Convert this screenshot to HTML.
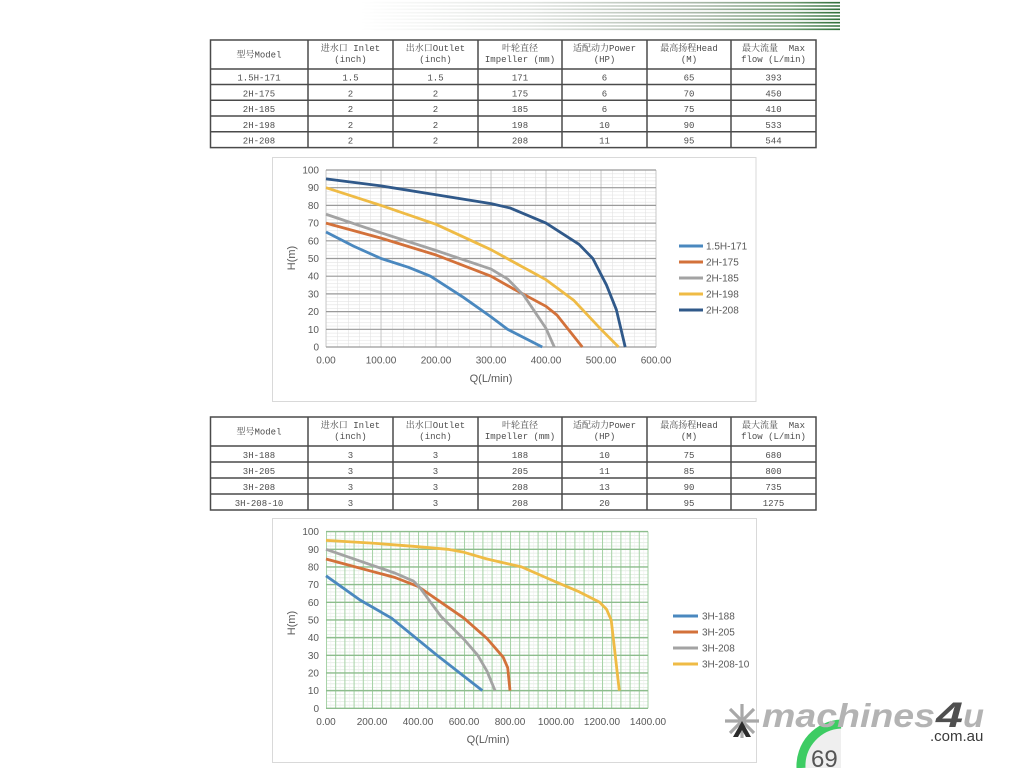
<!DOCTYPE html>
<html><head><meta charset="utf-8"><style>
html,body{margin:0;padding:0;background:#fff;width:1024px;height:768px;overflow:hidden}
svg{display:block;overflow:hidden}
.t{font-family:"Liberation Mono","Noto Serif CJK SC",monospace;font-size:9px;fill:#4d4d4d;text-anchor:middle}
.a{font-family:"Liberation Sans",sans-serif;font-size:10px;fill:#595959}
.ti{font-family:"Liberation Sans",sans-serif;font-size:11px;fill:#595959;text-anchor:middle}
</style></head><body>
<svg width="1024" height="768" viewBox="0 0 1024 768" xmlns="http://www.w3.org/2000/svg">
<defs>
<linearGradient id="sg" gradientUnits="userSpaceOnUse" x1="360" y1="0" x2="840" y2="0">
<stop offset="0" stop-color="#ffffff"/><stop offset="0.35" stop-color="#e2e5e2"/><stop offset="0.7" stop-color="#aab8aa"/><stop offset="0.9" stop-color="#6f9a72"/><stop offset="1" stop-color="#2f6e3a"/>
</linearGradient>
<pattern id="m1" x="326" y="170" width="11" height="3.54" patternUnits="userSpaceOnUse"><path d="M0 0.3H11M0.3 0V3.54" stroke="#e2e2e2" stroke-width="0.6" fill="none"/></pattern>
<pattern id="m2" x="326" y="531.6" width="4.6" height="3.534" patternUnits="userSpaceOnUse"><path d="M0 0.3H4.6" stroke="#d6e6d6" stroke-width="0.6" fill="none"/><path d="M0.3 0V3.534" stroke="#ececec" stroke-width="0.5" fill="none"/></pattern>
<pattern id="v2" x="326" y="531.6" width="9.2" height="200" patternUnits="userSpaceOnUse"><path d="M0.5 0V200" stroke="#a6d2a6" stroke-width="1" fill="none"/></pattern>
</defs>

<!-- header stripes -->
<g stroke="url(#sg)" stroke-width="1.6">
<line x1="360" y1="2.7" x2="840" y2="2.7"/><line x1="360" y1="6" x2="840" y2="6"/><line x1="360" y1="9.3" x2="840" y2="9.3"/>
<line x1="360" y1="12.7" x2="840" y2="12.7"/><line x1="360" y1="16" x2="840" y2="16"/><line x1="360" y1="19.3" x2="840" y2="19.3"/>
<line x1="360" y1="22.7" x2="840" y2="22.7"/><line x1="360" y1="26" x2="840" y2="26"/><line x1="360" y1="29.3" x2="840" y2="29.3"/>
</g>

<!-- TABLE 1 -->
<g stroke="#4a4a4a" stroke-width="1.5" fill="none">
<rect x="210.5" y="40" width="605.5" height="107.6"/>
<line x1="210.5" y1="69" x2="816" y2="69"/><line x1="210.5" y1="84.5" x2="816" y2="84.5"/><line x1="210.5" y1="100.3" x2="816" y2="100.3"/>
<line x1="210.5" y1="116" x2="816" y2="116"/><line x1="210.5" y1="131.8" x2="816" y2="131.8"/>
<line x1="308" y1="40" x2="308" y2="147.6"/><line x1="393" y1="40" x2="393" y2="147.6"/><line x1="478" y1="40" x2="478" y2="147.6"/>
<line x1="562" y1="40" x2="562" y2="147.6"/><line x1="647" y1="40" x2="647" y2="147.6"/><line x1="731" y1="40" x2="731" y2="147.6"/>
</g>
<g class="t">
<text x="259" y="57.5">型号Model</text>
<text x="350.5" y="51">进水口 Inlet</text><text x="350.5" y="61.8">(inch)</text>
<text x="435.5" y="51">出水口Outlet</text><text x="435.5" y="61.8">(inch)</text>
<text x="520" y="51">叶轮直径</text><text x="520" y="61.8">Impeller (mm)</text>
<text x="604.5" y="51">适配动力Power</text><text x="604.5" y="61.8">(HP)</text>
<text x="689" y="51">最高扬程Head</text><text x="689" y="61.8">(M)</text>
<text x="773.5" y="51" xml:space="preserve">最大流量  Max</text><text x="773.5" y="61.8">flow (L/min)</text>
<text x="259" y="80.5">1.5H-171</text><text x="350.5" y="80.5">1.5</text><text x="435.5" y="80.5">1.5</text><text x="520" y="80.5">171</text><text x="604.5" y="80.5">6</text><text x="689" y="80.5">65</text><text x="773.5" y="80.5">393</text>
<text x="259" y="96.3">2H-175</text><text x="350.5" y="96.3">2</text><text x="435.5" y="96.3">2</text><text x="520" y="96.3">175</text><text x="604.5" y="96.3">6</text><text x="689" y="96.3">70</text><text x="773.5" y="96.3">450</text>
<text x="259" y="112">2H-185</text><text x="350.5" y="112">2</text><text x="435.5" y="112">2</text><text x="520" y="112">185</text><text x="604.5" y="112">6</text><text x="689" y="112">75</text><text x="773.5" y="112">410</text>
<text x="259" y="127.8">2H-198</text><text x="350.5" y="127.8">2</text><text x="435.5" y="127.8">2</text><text x="520" y="127.8">198</text><text x="604.5" y="127.8">10</text><text x="689" y="127.8">90</text><text x="773.5" y="127.8">533</text>
<text x="259" y="143.6">2H-208</text><text x="350.5" y="143.6">2</text><text x="435.5" y="143.6">2</text><text x="520" y="143.6">208</text><text x="604.5" y="143.6">11</text><text x="689" y="143.6">95</text><text x="773.5" y="143.6">544</text>
</g>

<!-- CHART 1 -->
<rect x="272.5" y="157.5" width="483.5" height="244" fill="#fff" stroke="#d9d9d9" stroke-width="1"/>
<rect x="326" y="170" width="330" height="177" fill="url(#m1)"/>
<g stroke="#c8c8c8" stroke-width="1">
<line x1="326" y1="170" x2="326" y2="347"/><line x1="381" y1="170" x2="381" y2="347"/><line x1="436" y1="170" x2="436" y2="347"/>
<line x1="491" y1="170" x2="491" y2="347"/><line x1="546" y1="170" x2="546" y2="347"/><line x1="601" y1="170" x2="601" y2="347"/><line x1="656" y1="170" x2="656" y2="347"/>
</g>
<g stroke="#9a9a9a" stroke-width="1.2">
<line x1="326" y1="170" x2="656" y2="170"/><line x1="326" y1="187.7" x2="656" y2="187.7"/><line x1="326" y1="205.4" x2="656" y2="205.4"/>
<line x1="326" y1="223.1" x2="656" y2="223.1"/><line x1="326" y1="240.8" x2="656" y2="240.8"/><line x1="326" y1="258.5" x2="656" y2="258.5"/>
<line x1="326" y1="276.2" x2="656" y2="276.2"/><line x1="326" y1="293.9" x2="656" y2="293.9"/><line x1="326" y1="311.6" x2="656" y2="311.6"/>
<line x1="326" y1="329.3" x2="656" y2="329.3"/><line x1="326" y1="347" x2="656" y2="347"/>
</g>
<g class="a" text-anchor="end">
<text x="319" y="173.5">100</text><text x="319" y="191.2">90</text><text x="319" y="208.9">80</text><text x="319" y="226.6">70</text>
<text x="319" y="244.3">60</text><text x="319" y="262">50</text><text x="319" y="279.7">40</text><text x="319" y="297.4">30</text>
<text x="319" y="315.1">20</text><text x="319" y="332.8">10</text><text x="319" y="350.5">0</text>
</g>
<g class="a" text-anchor="middle">
<text x="326" y="363.5">0.00</text><text x="381" y="363.5">100.00</text><text x="436" y="363.5">200.00</text><text x="491" y="363.5">300.00</text>
<text x="546" y="363.5">400.00</text><text x="601" y="363.5">500.00</text><text x="656" y="363.5">600.00</text>
</g>
<text class="ti" x="491" y="382">Q(L/min)</text>
<text class="ti" transform="translate(295,258) rotate(-90)">H(m)</text>
<g fill="none" stroke-width="2.8" stroke-linejoin="round">
<polyline stroke="#4a88bf" points="326,231.95 353.5,246.11 381,258.5 408.5,267.35 430.5,276.2 463.5,297.44 491,316.91 507.5,329.3 542.2,347"/>
<polyline stroke="#d3713a" points="326,223.1 381,238.1 436,255 491,276.2 513,288.6 546,306.3 557,315.1 582.3,347"/>
<polyline stroke="#a3a3a3" points="326,214.25 381,232.8 436,250.5 491,269.1 507.5,278.9 524,295.7 546,328.4 554.3,347"/>
<polyline stroke="#efbb45" points="326,187.7 381,205.4 436,224.3 491,249.7 546,279.7 573.5,300.1 601,329.3 618.6,347"/>
<polyline stroke="#30598a" points="326,178.85 381,185.9 436,194.8 491,203.6 510.3,208.05 546,223.1 579,244.3 592.8,258.5 606.5,285.05 616.4,309.8 625.2,347"/>
</g>
<g stroke-width="3">
<line x1="679" y1="246" x2="703" y2="246" stroke="#4a88bf"/>
<line x1="679" y1="262" x2="703" y2="262" stroke="#d3713a"/>
<line x1="679" y1="278" x2="703" y2="278" stroke="#a3a3a3"/>
<line x1="679" y1="294" x2="703" y2="294" stroke="#efbb45"/>
<line x1="679" y1="310" x2="703" y2="310" stroke="#30598a"/>
</g>
<g class="a">
<text x="706" y="249.5">1.5H-171</text><text x="706" y="265.5">2H-175</text><text x="706" y="281.5">2H-185</text>
<text x="706" y="297.5">2H-198</text><text x="706" y="313.5">2H-208</text>
</g>

<!-- TABLE 2 -->
<g stroke="#4a4a4a" stroke-width="1.5" fill="none">
<rect x="210.5" y="417" width="605.5" height="93"/>
<line x1="210.5" y1="446" x2="816" y2="446"/><line x1="210.5" y1="462" x2="816" y2="462"/>
<line x1="210.5" y1="478" x2="816" y2="478"/><line x1="210.5" y1="494" x2="816" y2="494"/>
<line x1="308" y1="417" x2="308" y2="510"/><line x1="393" y1="417" x2="393" y2="510"/><line x1="478" y1="417" x2="478" y2="510"/>
<line x1="562" y1="417" x2="562" y2="510"/><line x1="647" y1="417" x2="647" y2="510"/><line x1="731" y1="417" x2="731" y2="510"/>
</g>
<g class="t">
<text x="259" y="434.5">型号Model</text>
<text x="350.5" y="428">进水口 Inlet</text><text x="350.5" y="438.8">(inch)</text>
<text x="435.5" y="428">出水口Outlet</text><text x="435.5" y="438.8">(inch)</text>
<text x="520" y="428">叶轮直径</text><text x="520" y="438.8">Impeller (mm)</text>
<text x="604.5" y="428">适配动力Power</text><text x="604.5" y="438.8">(HP)</text>
<text x="689" y="428">最高扬程Head</text><text x="689" y="438.8">(M)</text>
<text x="773.5" y="428" xml:space="preserve">最大流量  Max</text><text x="773.5" y="438.8">flow (L/min)</text>
<text x="259" y="458">3H-188</text><text x="350.5" y="458">3</text><text x="435.5" y="458">3</text><text x="520" y="458">188</text><text x="604.5" y="458">10</text><text x="689" y="458">75</text><text x="773.5" y="458">680</text>
<text x="259" y="474">3H-205</text><text x="350.5" y="474">3</text><text x="435.5" y="474">3</text><text x="520" y="474">205</text><text x="604.5" y="474">11</text><text x="689" y="474">85</text><text x="773.5" y="474">800</text>
<text x="259" y="490">3H-208</text><text x="350.5" y="490">3</text><text x="435.5" y="490">3</text><text x="520" y="490">208</text><text x="604.5" y="490">13</text><text x="689" y="490">90</text><text x="773.5" y="490">735</text>
<text x="259" y="506">3H-208-10</text><text x="350.5" y="506">3</text><text x="435.5" y="506">3</text><text x="520" y="506">208</text><text x="604.5" y="506">20</text><text x="689" y="506">95</text><text x="773.5" y="506">1275</text>
</g>

<!-- CHART 2 -->
<rect x="272.5" y="518.5" width="484" height="244" fill="#fff" stroke="#d9d9d9" stroke-width="1"/>
<rect x="326" y="531.6" width="322" height="176.7" fill="url(#m2)"/>
<rect x="325.5" y="531.6" width="322" height="176.7" fill="url(#v2)"/>
<line x1="648" y1="531.6" x2="648" y2="708.3" stroke="#a6d2a6" stroke-width="1"/>
<g stroke="#8dbd8d" stroke-width="1.4">
<line x1="326" y1="531.6" x2="648" y2="531.6"/><line x1="326" y1="549.27" x2="648" y2="549.27"/><line x1="326" y1="566.94" x2="648" y2="566.94"/>
<line x1="326" y1="584.61" x2="648" y2="584.61"/><line x1="326" y1="602.28" x2="648" y2="602.28"/><line x1="326" y1="619.95" x2="648" y2="619.95"/>
<line x1="326" y1="637.62" x2="648" y2="637.62"/><line x1="326" y1="655.29" x2="648" y2="655.29"/><line x1="326" y1="672.96" x2="648" y2="672.96"/>
<line x1="326" y1="690.63" x2="648" y2="690.63"/><line x1="326" y1="708.3" x2="648" y2="708.3"/>
</g>
<g class="a" text-anchor="end">
<text x="319" y="535.1">100</text><text x="319" y="552.8">90</text><text x="319" y="570.4">80</text><text x="319" y="588.1">70</text>
<text x="319" y="605.8">60</text><text x="319" y="623.5">50</text><text x="319" y="641.1">40</text><text x="319" y="658.8">30</text>
<text x="319" y="676.5">20</text><text x="319" y="694.1">10</text><text x="319" y="711.8">0</text>
</g>
<g class="a" text-anchor="middle">
<text x="326" y="725">0.00</text><text x="372" y="725">200.00</text><text x="418" y="725">400.00</text><text x="464" y="725">600.00</text>
<text x="510" y="725">800.00</text><text x="556" y="725">1000.00</text><text x="602" y="725">1200.00</text><text x="648" y="725">1400.00</text>
</g>
<text class="ti" x="488" y="743">Q(L/min)</text>
<text class="ti" transform="translate(295,623) rotate(-90)">H(m)</text>
<g fill="none" stroke-width="2.8" stroke-linejoin="round">
<polyline stroke="#4a88bf" points="326,575.8 360,600 391.6,618.2 436.6,654.9 482.4,690.6"/>
<polyline stroke="#d3713a" points="326,559 395,577.5 418,586.4 441,602.3 464,618.2 487,638.5 503.1,657.1 507.7,667.7 510,690.6"/>
<polyline stroke="#a3a3a3" points="326,549.27 372,565.17 395,573.12 413.4,581.08 420.3,588.14 441,616.42 464,639.39 477.8,655.29 487,671.19 495.05,690.63"/>
<polyline stroke="#efbb45" points="326,540.4 372,543.1 418,546.7 447.9,549.3 464,552.3 487,559 521.5,566.9 556,582 579,591.7 599.7,602.3 606.6,609.4 611.2,620 619.3,690.6"/>
</g>
<g stroke-width="3">
<line x1="673" y1="616" x2="698" y2="616" stroke="#4a88bf"/>
<line x1="673" y1="632" x2="698" y2="632" stroke="#d3713a"/>
<line x1="673" y1="648" x2="698" y2="648" stroke="#a3a3a3"/>
<line x1="673" y1="664" x2="698" y2="664" stroke="#efbb45"/>
</g>
<g class="a">
<text x="702" y="619.5">3H-188</text><text x="702" y="635.5">3H-205</text><text x="702" y="651.5">3H-208</text><text x="702" y="667.5">3H-208-10</text>
</g>

<!-- page number arc -->
<path d="M801,768 A42,42 0 0,1 841,724 L841,768 Z" fill="#efefef"/>
<path d="M801,768 A42,42 0 0,1 841,724" fill="none" stroke="#3dcc63" stroke-width="9"/>
<text x="811" y="767" font-family="Liberation Sans, sans-serif" font-size="24" fill="#555">69</text>

<!-- logo -->
<g stroke="#a8a8a8" stroke-width="3.2" stroke-linecap="butt">
<line x1="742" y1="704" x2="742" y2="738"/>
<line x1="725" y1="721" x2="759" y2="721"/>
<line x1="730" y1="709" x2="754" y2="733"/>
<line x1="754" y1="709" x2="730" y2="733"/>
</g>
<polygon points="742,721 751,737 746,737 742,730 738,737 733,737" fill="#2b2b2b"/>
<g font-family="Liberation Sans, sans-serif" font-weight="bold" font-style="italic">
<text x="762" y="727" font-size="33" fill="#b3b3b3" textLength="173" lengthAdjust="spacingAndGlyphs">machines</text>
<text x="936" y="727" font-size="35" fill="#4f4f4f" textLength="27" lengthAdjust="spacingAndGlyphs">4</text>
<text x="963" y="727" font-size="33" fill="#b3b3b3" textLength="21" lengthAdjust="spacingAndGlyphs">u</text>
</g>
<text x="930" y="741" font-family="Liberation Sans, sans-serif" font-size="15" fill="#3a3a3a">.com.au</text>
</svg>
</body></html>
